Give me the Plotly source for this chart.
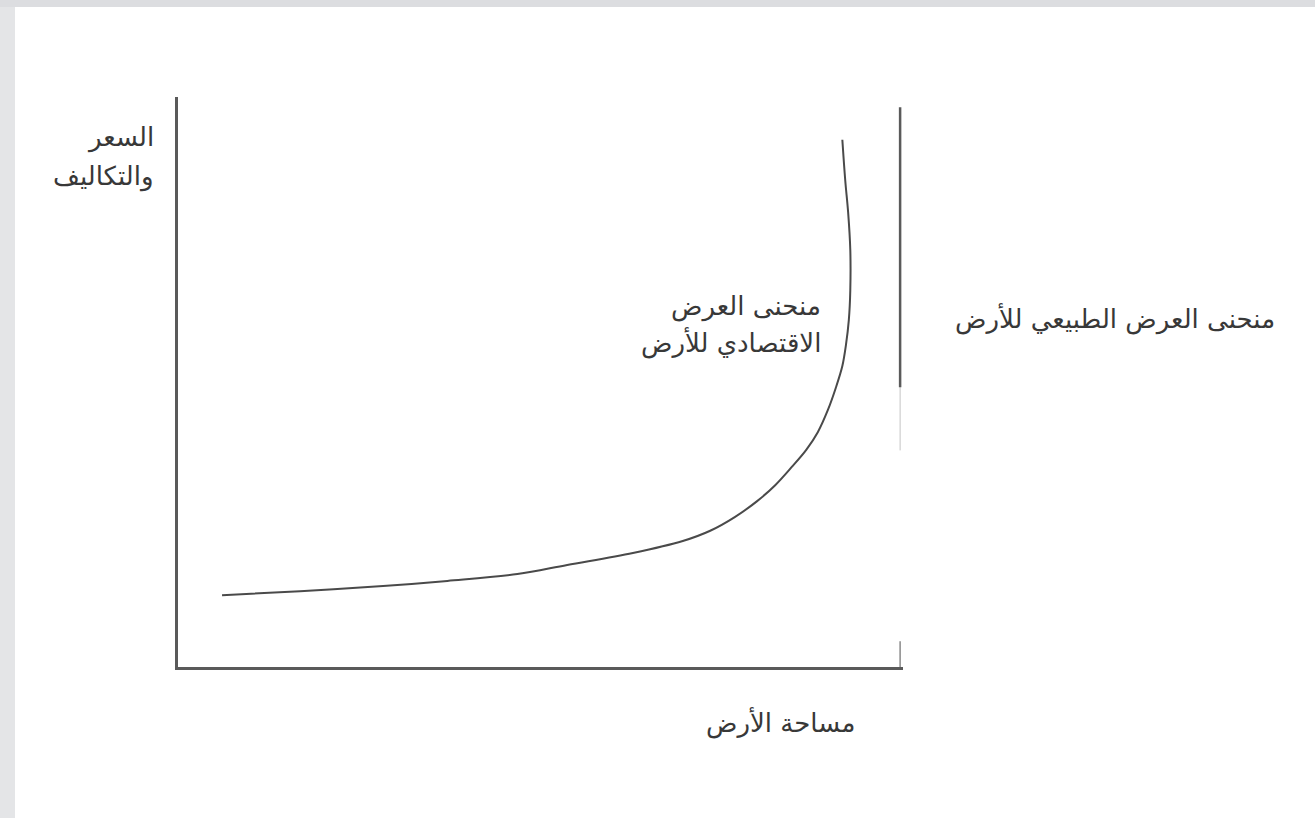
import plotly.graph_objects as go

# Economic supply curve of land (axis units 0-100)
curve_x = [6.1, 16.9, 28.4, 37.3, 47.0, 53.9, 63.0, 69.9, 73.7, 77.1, 80.2, 82.7, 85.0,
           87.0, 88.6, 90.0, 91.1, 92.0, 92.5, 92.9, 93.1, 93.1, 92.8, 92.4, 92.0]
curve_y = [12.6, 13.3, 14.2, 15.1, 16.3, 17.9, 20.0, 22.1, 23.9, 26.3, 29.1, 31.9, 35.1,
           38.1, 41.2, 45.1, 49.0, 52.8, 56.5, 60.9, 66.1, 73.2, 79.8, 85.4, 92.5]

# Natural (fixed) supply of land: vertical line
natural_x = [100, 100]
natural_y = [49.1, 98.2]
natural_faint_x = [100, 100]
natural_faint_y = [38.0, 49.1]
corner_x = [100, 100]
corner_y = [0, 4.5]

y_label_lines = ["السعر", "والتكاليف"]
econ_label_lines = ["منحنى العرض", "الاقتصادي للأرض"]
natural_label = "منحنى العرض الطبيعي للأرض"
x_label = "مساحة الأرض"

W, H = 1315, 818
L, R, T, B = 178, 903, 97, 667


def px(xp):
    return (xp - L) / (R - L)


def py(yp):
    return (B - yp) / (B - T)


fig = go.Figure()
fig.add_trace(go.Scatter(x=natural_faint_x, y=natural_faint_y, mode="lines",
                         line=dict(color="#c4c4c4", width=1), hoverinfo="skip"))
fig.add_trace(go.Scatter(x=corner_x, y=corner_y, mode="lines",
                         line=dict(color="#8a8a8a", width=1.5), hoverinfo="skip"))
fig.add_trace(go.Scatter(x=natural_x, y=natural_y, mode="lines",
                         line=dict(color="#5a5a5a", width=2.5), hoverinfo="skip"))
fig.add_trace(go.Scatter(x=curve_x, y=curve_y, mode="lines", line_shape="spline",
                         line=dict(color="#4a4a4a", width=2, smoothing=1.0), hoverinfo="skip"))

font = dict(family="DejaVu Sans, sans-serif", size=26, color="#383838")
ann = []
for txt, yp in zip(y_label_lines, [137, 176]):
    ann.append(dict(text=txt, x=px(156), y=py(yp), xanchor="right", yanchor="middle"))
for txt, yp in zip(econ_label_lines, [306, 342]):
    ann.append(dict(text=txt, x=px(823), y=py(yp), xanchor="right", yanchor="middle"))
ann.append(dict(text=natural_label, x=px(1277), y=py(318), xanchor="right", yanchor="middle"))
ann.append(dict(text=x_label, x=px(857), y=py(722), xanchor="right", yanchor="middle"))
for a in ann:
    a.update(xref="paper", yref="paper", showarrow=False, font=font)

shapes = [
    dict(type="rect", xref="paper", yref="paper", x0=px(0), x1=px(W), y0=py(7), y1=py(0),
         fillcolor="#dcdde0", line_width=0, layer="below"),
    dict(type="rect", xref="paper", yref="paper", x0=px(0), x1=px(15), y0=py(H), y1=py(7),
         fillcolor="#e4e5e7", line_width=0, layer="below"),
]

fig.update_layout(
    width=W, height=H,
    margin=dict(l=L, r=W - R, t=T, b=H - B),
    paper_bgcolor="white", plot_bgcolor="white",
    showlegend=False,
    annotations=ann, shapes=shapes,
    xaxis=dict(range=[0, 100.4], showgrid=False, zeroline=False, showticklabels=False,
               ticks="", showline=True, linecolor="#5a5a5a", linewidth=2.5, fixedrange=True),
    yaxis=dict(range=[0, 100], showgrid=False, zeroline=False, showticklabels=False,
               ticks="", showline=True, linecolor="#5a5a5a", linewidth=2.5, fixedrange=True),
)

fig.write_html("out.html", config={"displayModeBar": False},
               post_script="document.body.style.margin='0';document.body.style.overflow='hidden';")
